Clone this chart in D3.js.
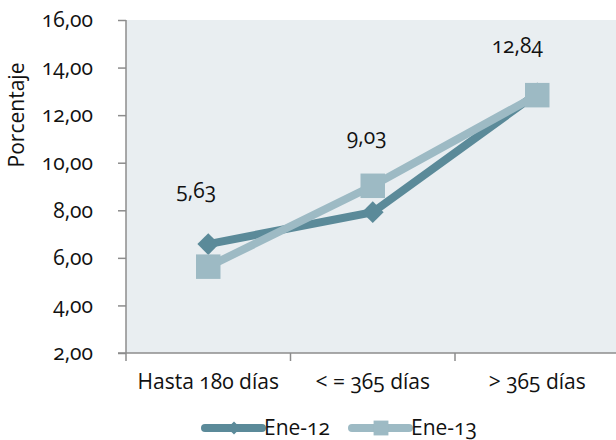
<!DOCTYPE html>
<html>
<head>
<meta charset="utf-8">
<script src="https://cdn.jsdelivr.net/npm/d3@7"></script>
<style>
  body { margin: 0; background: #fff; }
  text { font-family: "Open Sans", Lato, sans-serif; font-variant-numeric: oldstyle-nums; fill: #111; }
</style>
</head>
<body>
<div id="chart"></div>
<script>
// data
var categories = ["Hasta 180 días", "< = 365 días", "> 365 días"];
var ene12 = [6.58, 7.92, 12.92];
var ene13 = [5.63, 9.03, 12.84];
var yTicks = [2, 4, 6, 8, 10, 12, 14, 16];
var seriesNames = ["Ene-12", "Ene-13"];
var colors = ["#5b8a99", "#9dbac4"];

var W = 616, H = 440;
var fs = "21px";
var svg = d3.select("#chart").append("svg")
    .attr("width", W).attr("height", H);

var x = d3.scaleBand().domain(categories).range([126, 619.5]);
var y = d3.scaleLinear().domain([2, 16]).range([353, 20]);

// plot background
svg.append("rect")
    .attr("x", 126).attr("y", y(16))
    .attr("width", W - 126).attr("height", y(2) - y(16))
    .attr("fill", "#e9eef1");

// Y axis
var yAxis = svg.append("g")
    .attr("transform", "translate(126,0)")
    .call(d3.axisLeft(y).tickValues(yTicks).tickSize(8).tickPadding(25)
        .tickFormat(function (d) { return d3.format(".2f")(d).replace(".", ","); }));
yAxis.selectAll("text").attr("font-size", fs).style("fill", "#111");
yAxis.selectAll("line").attr("stroke", "#8c8c8c").attr("stroke-width", 1.5);
yAxis.select(".domain").attr("stroke", "#8c8c8c").attr("stroke-width", 1.5).attr("d", "M0," + y(16) + "V" + y(2));

// X axis
var xAxis = svg.append("g")
    .attr("transform", "translate(0," + y(2) + ")")
    .call(d3.axisBottom(x).tickSize(0).tickPadding(21));
xAxis.select(".domain").attr("stroke", "#8c8c8c").attr("stroke-width", 1.5).attr("d", "M118,0H" + W);
xAxis.selectAll("text").attr("font-size", fs).style("fill", "#111");
// category separator ticks
xAxis.selectAll(".sep")
    .data(categories)
    .enter().append("line")
    .attr("x1", function (d) { return x(d); })
    .attr("x2", function (d) { return x(d); })
    .attr("y1", 0).attr("y2", 8)
    .attr("stroke", "#8c8c8c").attr("stroke-width", 1.5);

var line = d3.line()
    .x(function (d, i) { return x(categories[i]) + x.bandwidth() / 2; })
    .y(function (d) { return y(d); });

var diamond = d3.symbol().type(d3.symbolDiamond2).size(300);
var square = d3.symbol().type(d3.symbolSquare).size(600);

// Ene-12
svg.append("path").datum(ene12)
    .attr("d", line).attr("fill", "none")
    .attr("stroke", colors[0]).attr("stroke-width", 8);
svg.selectAll(".m12").data(ene12).enter().append("path")
    .attr("d", diamond)
    .attr("transform", function (d, i) { return "translate(" + (x(categories[i]) + x.bandwidth() / 2) + "," + y(d) + ")"; })
    .attr("fill", colors[0]);

// Ene-13
svg.append("path").datum(ene13)
    .attr("d", line).attr("fill", "none")
    .attr("stroke", colors[1]).attr("stroke-width", 8);
svg.selectAll(".m13").data(ene13).enter().append("path")
    .attr("d", square)
    .attr("transform", function (d, i) { return "translate(" + (x(categories[i]) + x.bandwidth() / 2) + "," + y(d) + ")"; })
    .attr("fill", colors[1]);

// data labels for Ene-13
var labelDy = [-69, -42, -42];
var labelDx = [-12, -6, -20];
svg.selectAll(".lbl").data(ene13).enter().append("text")
    .attr("x", function (d, i) { return x(categories[i]) + x.bandwidth() / 2 + labelDx[i]; })
    .attr("y", function (d, i) { return y(d) + labelDy[i]; })
    .attr("text-anchor", "middle")
    .attr("font-size", fs)
    .text(function (d) { return d3.format(".2f")(d).replace(".", ","); });

// Y title
svg.append("text")
    .attr("transform", "translate(24,115) rotate(-90)")
    .attr("text-anchor", "middle")
    .attr("font-size", fs)
    .text("Porcentaje");

// legend
var legend = svg.append("g");
var lx = [205, 352];
seriesNames.forEach(function (name, i) {
    legend.append("line")
        .attr("x1", lx[i]).attr("x2", lx[i] + 57)
        .attr("y1", 428).attr("y2", 428)
        .attr("stroke", colors[i]).attr("stroke-width", 8).attr("stroke-linecap", "round");
    legend.append("path")
        .attr("d", i === 0 ? d3.symbol().type(d3.symbolDiamond2).size(110)() : d3.symbol().type(d3.symbolSquare).size(220)())
        .attr("transform", "translate(" + (lx[i] + 29) + ",428)")
        .attr("fill", colors[i]);
    legend.append("text")
        .attr("x", lx[i] + 59).attr("y", 428)
        .attr("dy", "0.35em")
        .attr("font-size", fs)
        .text(name);
});
</script>
</body>
</html>
